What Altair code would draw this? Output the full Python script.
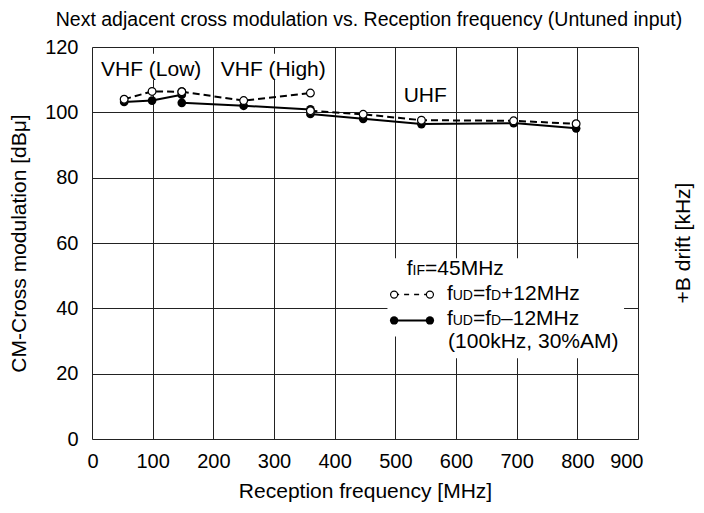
import altair as alt
import pandas as pd

# ---- data ----
vhf_low_freq = [53, 99, 148]
vhf_low_plus = [104.0, 106.4, 106.3]
vhf_low_minus = [103.2, 103.6, 105.4]

vhf_high_freq = [148, 250, 360]
vhf_high_plus = [106.3, 103.6, 105.9]
vhf_high_minus = [102.9, 102.0, 100.9]

uhf_freq = [360, 447, 543, 695, 798]
uhf_plus = [100.5, 99.4, 97.6, 97.4, 96.5]
uhf_minus = [99.5, 98.0, 96.4, 96.7, 95.1]

x_ticks = list(range(0, 901, 100))
y_ticks = list(range(0, 121, 20))

rows = []
for band, fr, pl, mi in [
    ("VHF-L", vhf_low_freq, vhf_low_plus, vhf_low_minus),
    ("VHF-H", vhf_high_freq, vhf_high_plus, vhf_high_minus),
    ("UHF", uhf_freq, uhf_plus, uhf_minus),
]:
    for f, v in zip(fr, pl):
        rows.append({"freq": f, "level": v, "curve": "plus", "seg": band + "plus"})
    for f, v in zip(fr, mi):
        rows.append({"freq": f, "level": v, "curve": "minus", "seg": band + "minus"})
df = pd.DataFrame(rows)

FONT = "Liberation Sans"

xs = alt.Scale(domain=[0, 900], nice=False, zero=False)
ys = alt.Scale(domain=[0, 120], nice=False, zero=False)

xax = alt.Axis(values=x_ticks, title="Reception frequency [MHz]", labelFontSize=20,
               labelPadding=12, ticks=False, tickSize=0, domain=False, grid=True,
               labelFlush=True, labelFlushOffset=5,
               gridColor="#222222", gridWidth=1, labelColor="black", titleColor="black",
               titleFontSize=21, titleFontWeight="normal", titleX=273, titleY=58,
               titleBaseline="alphabetic", titleAlign="center", labelFont=FONT, titleFont=FONT)
yax = alt.Axis(values=y_ticks, title="CM-Cross modulation [dBμ]", labelFontSize=20,
               labelPadding=14, ticks=False, tickSize=0, domain=False, grid=True,
               gridColor="#222222", gridWidth=1, labelColor="black", titleColor="black",
               titleFontSize=21, titleFontWeight="normal", titleAngle=270, titleX=-67, titleY=196,
               titleBaseline="alphabetic", titleAlign="center", labelFont=FONT, titleFont=FONT)

base = alt.Chart(df)

# white boxes behind annotation text (annotation layout)
boxes = pd.DataFrame({
    "x": [8, 204, 487, 574],
    "x2": [189, 393, 877, 877],
    "y": [109.9, 109.9, 31.4, 24.7],
    "y2": [117.9, 117.9, 55.3, 31.4],
})
box_layer = alt.Chart(boxes).mark_rect(fill="white", stroke=None).encode(
    x=alt.X("x:Q", scale=xs, axis=xax), x2="x2:Q",
    y=alt.Y("y:Q", scale=ys, axis=yax), y2="y2:Q",
)

dashed = base.transform_filter(alt.datum.curve == "plus").mark_line(
    color="black", strokeWidth=2, strokeDash=[7, 4]
).encode(x=alt.X("freq:Q", scale=xs), y=alt.Y("level:Q", scale=ys), detail="seg:N")

solid = base.transform_filter(alt.datum.curve == "minus").mark_line(
    color="black", strokeWidth=2
).encode(x=alt.X("freq:Q", scale=xs), y=alt.Y("level:Q", scale=ys), detail="seg:N")

filled_pts = base.transform_filter(alt.datum.curve == "minus").mark_point(
    filled=True, color="black", size=75, opacity=1
).encode(x=alt.X("freq:Q", scale=xs), y=alt.Y("level:Q", scale=ys))

open_pts = base.transform_filter(alt.datum.curve == "plus").mark_point(
    filled=True, fill="white", stroke="black", strokeWidth=1.2, size=60, opacity=1
).encode(x=alt.X("freq:Q", scale=xs), y=alt.Y("level:Q", scale=ys))

# legend symbols
leg = pd.DataFrame({
    "x": [498, 557, 498, 557],
    "y": [44.2, 44.2, 36.3, 36.3],
    "curve": ["plus", "plus", "minus", "minus"],
})
leg_dash = alt.Chart(leg).transform_filter(alt.datum.curve == "plus").mark_line(
    color="black", strokeWidth=1.5, strokeDash=[5, 5]
).encode(x=alt.X("x:Q", scale=xs), y=alt.Y("y:Q", scale=ys))
leg_solid = alt.Chart(leg).transform_filter(alt.datum.curve == "minus").mark_line(
    color="black", strokeWidth=2
).encode(x=alt.X("x:Q", scale=xs), y=alt.Y("y:Q", scale=ys))
leg_filled = alt.Chart(leg).transform_filter(alt.datum.curve == "minus").mark_point(
    filled=True, color="black", size=70, opacity=1
).encode(x=alt.X("x:Q", scale=xs), y=alt.Y("y:Q", scale=ys))
leg_open = alt.Chart(leg).transform_filter(alt.datum.curve == "plus").mark_point(
    filled=True, fill="white", stroke="black", strokeWidth=1.2, size=50, opacity=1
).encode(x=alt.X("x:Q", scale=xs), y=alt.Y("y:Q", scale=ys))

# text annotations (band labels and legend text pieces)
texts = pd.DataFrame([
    {"t": "VHF (Low)", "x": 14.8, "y": 111.0, "s": 21},
    {"t": "VHF (High)", "x": 212.2, "y": 111.0, "s": 21},
    {"t": "UHF", "x": 513.8, "y": 103.3, "s": 21},
    {"t": "f", "x": 519, "y": 50.1, "s": 21},
    {"t": "IF", "x": 528.5, "y": 50.1, "s": 14},
    {"t": "=45MHz", "x": 549, "y": 50.1, "s": 21},
    {"t": "f", "x": 585, "y": 42.4, "s": 21},
    {"t": "UD", "x": 594.5, "y": 42.4, "s": 14},
    {"t": "=f", "x": 627.9, "y": 42.4, "s": 21},
    {"t": "D", "x": 657.7, "y": 42.4, "s": 14},
    {"t": "+12MHz", "x": 674.3, "y": 42.4, "s": 21},
    {"t": "f", "x": 585, "y": 34.8, "s": 21},
    {"t": "UD", "x": 594.5, "y": 34.8, "s": 14},
    {"t": "=f", "x": 627.9, "y": 34.8, "s": 21},
    {"t": "D", "x": 657.7, "y": 34.8, "s": 14},
    {"t": "\u201312MHz", "x": 674.3, "y": 34.8, "s": 21},
    {"t": "(100kHz, 30%AM)", "x": 587, "y": 27.8, "s": 21},
])
text_layer = alt.Chart(texts).mark_text(
    align="left", baseline="alphabetic", font=FONT, color="black"
).encode(
    x=alt.X("x:Q", scale=xs), y=alt.Y("y:Q", scale=ys),
    text="t:N", size=alt.Size("s:Q", scale=None, legend=None),
)

# chart title and right-hand axis title as text
main_title = alt.Chart(pd.DataFrame({"t": ["Next adjacent cross modulation vs. Reception frequency (Untuned input)"]})).mark_text(
    align="center", baseline="alphabetic", font=FONT, fontSize=19.5, color="black"
).encode(x=alt.value(277), y=alt.value(-21), text="t:N")

right_title = alt.Chart(pd.DataFrame({"t": ["+B drift [kHz]"]})).mark_text(
    angle=270, align="center", baseline="alphabetic", font=FONT, fontSize=21, color="black"
).encode(x=alt.value(598), y=alt.value(196), text="t:N")

chart = alt.layer(
    box_layer, dashed, solid, filled_pts, open_pts,
    leg_dash, leg_solid, leg_filled, leg_open, text_layer, main_title, right_title,
).properties(
    width=546, height=392,
    autosize=alt.AutoSizeParams(type="none"),
    padding={"left": 84, "top": 39, "right": 58, "bottom": 66},
).configure_view(stroke="black", strokeWidth=2).configure(background="white")

chart.save("out.html", embed_options={"renderer": "svg", "actions": False})
